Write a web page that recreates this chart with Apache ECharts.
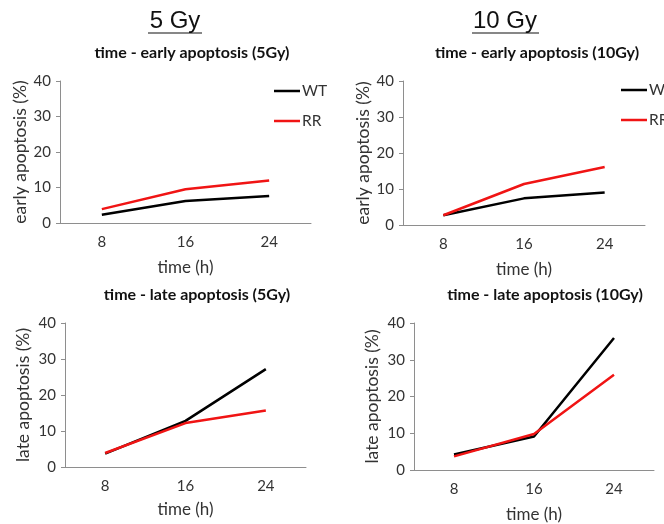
<!DOCTYPE html>
<html>
<head>
<meta charset="utf-8">
<script src="https://cdn.jsdelivr.net/npm/echarts@6/dist/echarts.min.js"></script>
<style>
  html, body { margin: 0; padding: 0; background: #fff; }
  #chart { width: 664px; height: 524px; }
</style>
</head>
<body>
<div id="chart"></div>
<script>
// time points (h)
const hours = ['8', '16', '24']

// early apoptosis (%)
const early5WT = [2.3, 6.2, 7.6]
const early5RR = [3.9, 9.5, 12.0]
const early10WT = [2.7, 7.4, 9.0]
const early10RR = [2.7, 11.4, 16.1]

// late apoptosis (%)
const late5WT = [3.7, 12.8, 27.2]
const late5RR = [3.9, 12.2, 15.7]
const late10WT = [4.2, 9.1, 35.9]
const late10RR = [3.7, 9.8, 25.9]

const yTicks = { min: 0, max: 40, interval: 10 }

const font = 'Lato, "Open Sans", sans-serif'
const axisGray = '#8e8e8e'
const textColor = '#333'
const wtColor = '#000000'
const rrColor = '#f01414'

// 每个子图的网格位置
const grids = [
  { left: 60, top: 81, width: 251, height: 142 },
  { left: 403, top: 81, width: 242, height: 144 },
  { left: 65, top: 323, width: 241, height: 144 },
  { left: 414, top: 323, width: 240, height: 147 }
]

const yNames = ['early apoptosis (%)', 'early apoptosis (%)', 'late apoptosis (%)', 'late apoptosis (%)']
const yGaps = [30, 30, 33, 33]
const xGaps = [36, 36, 34, 36]

function makeX(i) {
  return {
    type: 'category',
    gridIndex: i,
    data: hours,
    boundaryGap: true,
    name: 'time (h)',
    nameLocation: 'middle',
    nameGap: xGaps[i],
    nameTextStyle: { fontFamily: font, fontSize: 17, color: textColor },
    axisLine: { lineStyle: { color: axisGray, width: 1 } },
    axisTick: { alignWithLabel: true, length: 4, lineStyle: { color: axisGray } },
    axisLabel: { fontFamily: font, fontSize: 15, color: textColor, margin: 12 },
    splitLine: { show: false }
  }
}

function makeY(i) {
  return {
    type: 'value',
    gridIndex: i,
    min: yTicks.min,
    max: yTicks.max,
    interval: yTicks.interval,
    name: yNames[i],
    nameLocation: 'middle',
    nameGap: yGaps[i],
    nameTextStyle: { fontFamily: font, fontSize: 17.5, color: textColor },
    axisLine: { show: true, lineStyle: { color: axisGray, width: 1 } },
    axisTick: { show: true, length: 4, lineStyle: { color: axisGray } },
    axisLabel: { fontFamily: font, fontSize: 15, color: textColor, margin: 9 },
    splitLine: { show: false }
  }
}

function makeLine(name, data, color, i) {
  return {
    name: name,
    type: 'line',
    xAxisIndex: i,
    yAxisIndex: i,
    data: data,
    showSymbol: false,
    symbol: 'none',
    lineStyle: { color: color, width: 2.5 },
    itemStyle: { color: color },
    silent: true,
    animation: false
  }
}

function makeLegend(left, top) {
  return {
    data: ['WT', 'RR'],
    orient: 'vertical',
    left: left,
    top: top,
    icon: 'rect',
    itemWidth: 26,
    itemHeight: 2.5,
    itemGap: 14,
    textStyle: { fontFamily: font, fontSize: 15.5, color: textColor, padding: [0, 0, 0, -3] }
  }
}

function subTitle(text, x, y) {
  return {
    text: text,
    left: x,
    top: y,
    textAlign: 'center',
    textStyle: { fontFamily: font, fontSize: 16, fontWeight: 'bold', color: '#111' }
  }
}

const chart = echarts.init(document.getElementById('chart'))

const option = {
  backgroundColor: '#fff',
  animation: false,
  title: [
    subTitle('time - early apoptosis (5Gy)', 187, 40),
    subTitle('time - early apoptosis (10Gy)', 532, 40),
    subTitle('time - late apoptosis (5Gy)', 192, 282),
    subTitle('time - late apoptosis (10Gy)', 540, 282)
  ],
  legend: [makeLegend(269, 78), makeLegend(616, 77)],
  grid: grids,
  xAxis: [0, 1, 2, 3].map(makeX),
  yAxis: [0, 1, 2, 3].map(makeY),
  series: [
    makeLine('WT', early5WT, wtColor, 0),
    makeLine('RR', early5RR, rrColor, 0),
    makeLine('WT', early10WT, wtColor, 1),
    makeLine('RR', early10RR, rrColor, 1),
    makeLine('WT', late5WT, wtColor, 2),
    makeLine('RR', late5RR, rrColor, 2),
    makeLine('WT', late10WT, wtColor, 3),
    makeLine('RR', late10RR, rrColor, 3)
  ],
  // 大标题（带下划线）
  graphic: [
    {
      type: 'text', x: 175, y: 21,
      style: { text: '5 Gy', fontFamily: 'Liberation Sans, Arial, sans-serif', fontSize: 24, fill: '#111', textAlign: 'center', textVerticalAlign: 'middle' }
    },
    { type: 'line', shape: { x1: 148, y1: 33, x2: 202, y2: 33 }, style: { stroke: '#111', lineWidth: 1.2 } },
    {
      type: 'text', x: 505, y: 21,
      style: { text: '10 Gy', fontFamily: 'Liberation Sans, Arial, sans-serif', fontSize: 24, fill: '#111', textAlign: 'center', textVerticalAlign: 'middle' }
    },
    { type: 'line', shape: { x1: 472, y1: 33, x2: 539, y2: 33 }, style: { stroke: '#111', lineWidth: 1.2 } }
  ]
}

chart.setOption(option)
</script>
</body>
</html>
